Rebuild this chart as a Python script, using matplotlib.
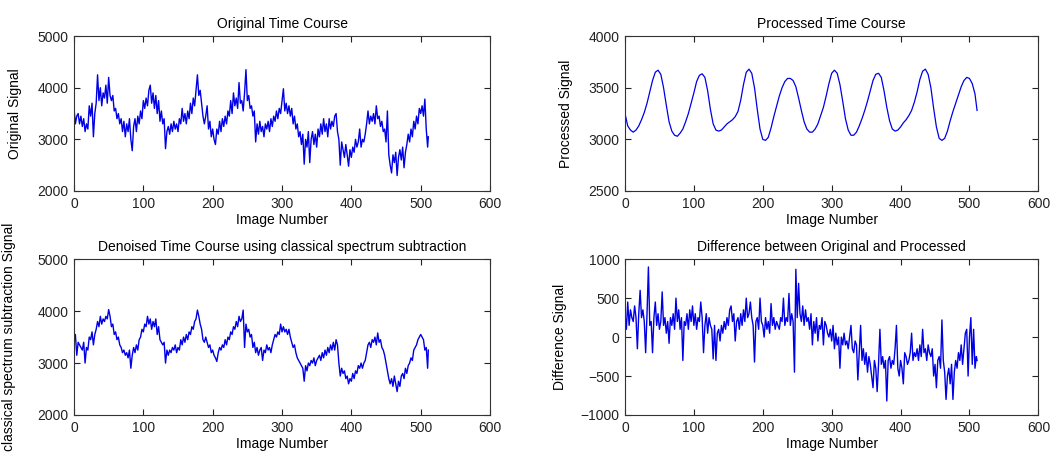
import matplotlib
matplotlib.use('Agg')
import matplotlib.pyplot as plt

image_number = list(range(0, 512, 2)) + [511]
# the processed course is smooth, every 4th image is enough
image_number_processed = list(range(0, 512, 4)) + [511]

# original time course
original = [3600, 3300, 3450, 3500, 3300, 3450, 3250, 3400, 3150, 3300, 3200, 3650, 3450, 3700, 3050, 3500,
            3700, 4250, 3750, 4000, 3650, 3900, 3800, 4050, 3700, 4200, 3850, 3750, 3850, 3550, 3600, 3400,
            3500, 3300, 3400, 3150, 3350, 3050, 3300, 3150, 3400, 3000, 2780, 3250, 3400, 3150, 3450, 3300,
            3550, 3400, 3750, 3600, 3800, 3650, 3950, 4050, 3700, 3900, 3600, 3850, 3500, 3750, 3350, 3550,
            3300, 3400, 2820, 3150, 3250, 3100, 3300, 3150, 3350, 3200, 3300, 3150, 3400, 3300, 3600, 3350,
            3500, 3300, 3550, 3400, 3700, 3500, 3800, 3650, 3950, 4250, 3850, 3950, 3700, 3450, 3300, 3450,
            3650, 3200, 3350, 3050, 3200, 3000, 2900, 3200, 3100, 3350, 3150, 3400, 3250, 3450, 3300, 3550,
            3450, 3750, 3500, 3900, 3650, 3800, 3600, 4100, 3700, 3750, 3550, 3900, 4350, 3750, 3850, 3600,
            3650, 3450, 3550, 2950, 3300, 3100, 3350, 3150, 3250, 3050, 3300, 3200, 3350, 3150, 3400, 3250,
            3450, 3350, 3550, 3400, 3600, 3500, 3750, 3980, 3550, 3700, 3500, 3650, 3450, 3600, 3300, 3450,
            3200, 3300, 3050, 3150, 2900, 3100, 2520, 3000, 2850, 3150, 2550, 3000, 3150, 2900, 3100, 2850,
            3200, 3050, 3300, 3100, 3400, 3150, 3300, 3050, 3400, 3200, 3350, 3250, 3450, 3500, 3150, 3000,
            2500, 2950, 2800, 2650, 2900, 2700, 2480, 2800, 2650, 2850, 2750, 3000, 2850, 2950, 3200, 2850,
            3000, 2950, 3100, 3300, 3550, 3300, 3450, 3350, 3500, 3300, 3650, 3400, 3450, 3250, 3350, 3150,
            3200, 2950, 3550, 2700, 2500, 2350, 2700, 2550, 2750, 2300, 2650, 2800, 2600, 2850, 2450, 2750,
            2900, 3100, 2950, 3200, 3050, 3350, 3200, 3450, 3300, 3600, 3500, 3650, 3450, 3780, 3200, 2850,
            3050]

# processed (filtered) time course
processed = [3250, 3130, 3090, 3070, 3090, 3130, 3190, 3260,
             3350, 3460, 3570, 3650, 3670, 3630, 3500, 3330,
             3170, 3080, 3040, 3030, 3060, 3100, 3170, 3250,
             3350, 3450, 3560, 3620, 3635, 3600, 3470, 3290,
             3150, 3090, 3080, 3090, 3120, 3150, 3170, 3190,
             3220, 3270, 3380, 3530, 3650, 3680, 3640, 3500,
             3290, 3100, 3000, 2990, 3020, 3110, 3220, 3320,
             3420, 3500, 3560, 3590, 3590, 3570, 3510, 3400,
             3280, 3170, 3100, 3070, 3070, 3100, 3150, 3230,
             3310, 3420, 3540, 3640, 3670, 3640, 3530, 3370,
             3200, 3090, 3040, 3040, 3070, 3130, 3200, 3280,
             3370, 3470, 3570, 3630, 3640, 3600, 3470, 3310,
             3180, 3100, 3080, 3090, 3120, 3160, 3190, 3230,
             3280, 3360, 3460, 3580, 3660, 3680, 3630, 3500,
             3300, 3120, 3010, 2990, 3010, 3080, 3180, 3270,
             3350, 3430, 3510, 3570, 3600, 3590, 3540, 3440,
             3280]

# denoised with classical spectrum subtraction
denoised = [3450, 3550, 3150, 3400, 3350, 3300, 3250, 3400, 3000, 3300, 3250, 3500, 3450, 3600, 3350, 3550,
            3650, 3800, 3700, 3900, 3750, 3850, 3800, 3900, 3850, 4030, 3900, 3700, 3750, 3550, 3600, 3450,
            3500, 3350, 3300, 3200, 3250, 3150, 3200, 3100, 3250, 2900, 3150, 3300, 3200, 3350, 3250, 3450,
            3500, 3650, 3600, 3750, 3700, 3900, 3750, 3850, 3650, 3800, 3700, 3850, 3550, 3700, 3450, 3400,
            3350, 3400, 3000, 3250, 3150, 3250, 3200, 3300, 3250, 3350, 3200, 3300, 3250, 3450, 3350, 3500,
            3400, 3550, 3450, 3600, 3550, 3700, 3650, 3800, 3850, 4020, 3900, 3750, 3650, 3450, 3400, 3500,
            3400, 3300, 3350, 3200, 3250, 3150, 3100, 3030, 3200, 3300, 3250, 3350, 3300, 3450, 3350, 3500,
            3450, 3600, 3550, 3700, 3650, 3800, 3700, 3900, 3800, 3850, 4020, 3300, 3750, 3600, 3650, 3500,
            3550, 3300, 3400, 3200, 3300, 3150, 3250, 3300, 3050, 3250, 3200, 3350, 3250, 3300, 3200, 3350,
            3450, 3550, 3500, 3600, 3550, 3750, 3600, 3700, 3600, 3650, 3550, 3650, 3500, 3400, 3300, 3350,
            3200, 3100, 3050, 3000, 2950, 2900, 2650, 2950, 2850, 3000, 2950, 3050, 3000, 3100, 2950, 3050,
            3100, 3150, 3050, 3200, 3100, 3250, 3150, 3300, 3200, 3350, 3250, 3400, 3250, 3450, 3350, 3000,
            2750, 2900, 2800, 2850, 2700, 2750, 2600, 2700, 2650, 2800, 2700, 2850, 2800, 2950, 2900, 3000,
            2900, 3000, 3050, 3200, 3350, 3400, 3300, 3450, 3400, 3500, 3350, 3580, 3400, 3450, 3300, 3250,
            3150, 3000, 2850, 2700, 2600, 2700, 2550, 2750, 2600, 2450, 2650, 2550, 2750, 2800, 2700, 2900,
            2800, 2950, 3000, 3100, 3050, 3250, 3300, 3350, 3450, 3500, 3550, 3500, 3450, 3250, 3300, 2900,
            3250]

# difference between original and processed
difference = [300, 100, 450, 150, 350, 250, 200, 400, 250, -150, 300, 600, 250, 350, 200, -200,
              300, 900, 150, 200, -200, 250, 450, 150, 300, 100, 200, 580, 150, 250, 50, 200,
              -80, 250, 150, 300, 100, 500, 200, 350, 100, 250, -300, 200, 150, 300, 100, 350,
              200, 400, 150, 300, 100, 250, 200, 450, 250, -200, 150, 300, 50, 250, 150, 100,
              -280, 150, -300, 50, 100, -50, 150, 50, 200, 100, 250, 150, 350, 400, 200, 300,
              -50, 200, 250, 100, 300, 150, 350, 200, 500, 250, 300, 450, 250, 150, -320, 200,
              250, 100, 500, 200, 150, 0, 250, 100, 200, 50, 430, 150, 250, 100, 200, 150,
              100, 250, 200, 500, 150, 250, 200, 560, 150, 300, 200, -450, 870, 250, 690, 300,
              200, 400, 150, 350, 200, 250, 100, 300, -100, 200, 50, 250, -50, 150, 100, 250,
              -100, 200, 150, 50, 0, 100, -50, 150, -150, 50, -100, 0, -400, 0, -100, 50,
              -100, -50, -150, 0, 150, -150, -200, -50, -100, -550, -200, 150, -300, -150, -350, -200,
              -450, -250, -350, -500, -650, -300, -400, -700, -350, 100, -350, -250, -400, -300, -820, -300,
              -250, -400, -300, -350, -150, 150, -400, -500, -300, -400, -600, -200, -250, -350, -300, -200,
              50, -300, -200, -250, -150, -300, -100, -250, 100, -200, -150, -300, -100, -200, -250, -150,
              -500, -350, -650, -300, -250, -400, 220, -300, -450, -800, -500, -400, -600, -350, -800, -450,
              -300, -400, -200, -300, -100, -350, -150, 50, 100, -500, 0, 250, -350, 100, -400, -250,
              -300]

plt.rcParams['font.family'] = ['Liberation Sans', 'DejaVu Sans']
plt.rcParams['font.size'] = 10

fig = plt.figure(figsize=(10.6, 4.61), dpi=100)

panels = [
    # (rect, x, y, title, ylabel, ylim, yticks, label x, line width)
    ([0.0698, 0.5857, 0.3925, 0.336], image_number, original, 'Original Time Course',
     'Original Signal', (2000, 5000), [2000, 3000, 4000, 5000], -0.125, 1.0),
    ([0.5896, 0.5857, 0.3900, 0.336], image_number_processed, processed, 'Processed Time Course',
     'Processed Signal', (2500, 4000), [2500, 3000, 3500, 4000], -0.125, 0.9),
    ([0.0698, 0.0998, 0.3925, 0.338], image_number, denoised,
     'Denoised Time Course using classical spectrum subtraction',
     'classical spectrum subtraction Signal', (2000, 5000), [2000, 3000, 4000, 5000], -0.14, 1.0),
    ([0.5896, 0.0998, 0.3900, 0.338], image_number, difference, 'Difference between Original and Processed',
     'Difference Signal', (-1000, 1000), [-1000, -500, 0, 500, 1000], -0.14, 1.0),
]

for rect, x, y, title, ylabel, ylim, yticks, lx, lw in panels:
    ax = fig.add_axes(rect)
    ax.plot(x, y, color='#0000e6', linewidth=lw)
    ax.set_xlim(0, 600)
    ax.set_ylim(*ylim)
    ax.set_xticks([0, 100, 200, 300, 400, 500, 600])
    ax.set_yticks(yticks)
    ax.tick_params(direction='in', length=4, width=0.8, top=True, right=True, pad=4,
                   labelsize=10, colors='#222222')
    for s in ax.spines.values():
        s.set_color('#333333')
        s.set_linewidth(0.8)
    ax.set_title(title, fontsize=10, pad=6)
    ax.set_xlabel('Image Number', fontsize=10, labelpad=2)
    ax.set_ylabel(ylabel, fontsize=10)
    ax.yaxis.set_label_coords(lx, 0.5)

fig.savefig('out.png', dpi=100)
